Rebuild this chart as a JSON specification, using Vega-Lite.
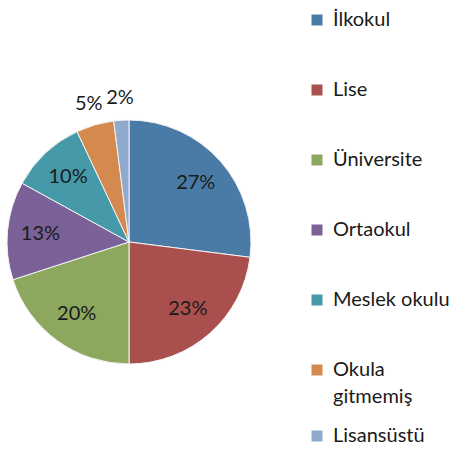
{
  "$schema": "https://vega.github.io/schema/vega-lite/v6.json",
  "autosize": {"type": "none"},
  "width": 258,
  "height": 420,
  "padding": {"left": 0, "top": 32, "right": 197, "bottom": 0},
  "background": "white",
  "config": {
    "view": {"stroke": null},
    "font": "Lato",
    "style": {"guide-label": {"lineHeight": 27}}
  },
  "data": {
    "values": [
      {"kategori": "İlkokul", "pay": 0.27, "sira": 1},
      {"kategori": "Lise", "pay": 0.23, "sira": 2},
      {"kategori": "Üniversite", "pay": 0.20, "sira": 3},
      {"kategori": "Ortaokul", "pay": 0.13, "sira": 4},
      {"kategori": "Meslek okulu", "pay": 0.10, "sira": 5},
      {"kategori": "Okula gitmemiş", "pay": 0.05, "sira": 6},
      {"kategori": "Lisansüstü", "pay": 0.02, "sira": 7}
    ]
  },
  "encoding": {
    "theta": {"field": "pay", "type": "quantitative", "stack": true},
    "order": {"field": "sira", "type": "quantitative"}
  },
  "layer": [
    {
      "mark": {"type": "arc", "outerRadius": 90, "strokeWidth": 0},
      "encoding": {
        "fill": {
          "condition": {
            "test": "datum.kategori == 'Lisansüstü'",
            "field": "kategori",
            "type": "nominal",
            "scale": {"domain": ["Lisansüstü"], "range": ["#8FAACC"]},
            "legend": {
              "orient": "none",
              "legendX": 307,
              "legendY": 394,
              "title": null,
              "symbolType": "square",
              "symbolSize": 121,
              "symbolStrokeWidth": 0,
              "labelFontSize": 20,
              "labelColor": "#1a1a1a",
              "labelOffset": 6
            }
          },
          "value": "#dddddd"
        }
      }
    },
    {
      "mark": {"type": "arc", "outerRadius": 122, "stroke": "#f4f4f4", "strokeWidth": 1},
      "encoding": {
        "color": {
          "field": "kategori",
          "type": "nominal",
          "sort": ["İlkokul", "Lise", "Üniversite", "Ortaokul", "Meslek okulu", "Okula gitmemiş", "Lisansüstü"],
          "scale": {
            "domain": ["İlkokul", "Lise", "Üniversite", "Ortaokul", "Meslek okulu", "Okula gitmemiş", "Lisansüstü"],
            "range": ["#4A7BA7", "#A9504F", "#8BA85E", "#7A6299", "#4599A9", "#D4894F", "#8FAACC"]
          },
          "legend": {
            "orient": "none",
            "legendX": 307,
            "legendY": -22,
            "title": null,
            "values": ["İlkokul", "Lise", "Üniversite", "Ortaokul", "Meslek okulu", "Okula gitmemiş"],
            "symbolType": "square",
            "symbolSize": 121,
            "symbolStrokeWidth": 0,
            "labelFontSize": 20,
            "labelColor": "#1a1a1a",
            "labelOffset": 6,
            "rowPadding": 50,
            "labelExpr": "datum.label == 'Okula gitmemiş' ? ['Okula', 'gitmemiş'] : datum.label"
          }
        }
      }
    },
    {
      "mark": {"type": "text", "radius": 89, "fontSize": 20, "color": "#1a1a1a"},
      "encoding": {
        "text": {"condition": {"test": "datum.pay >= 0.1", "field": "pay", "format": ".0%"}, "value": ""}
      }
    },
    {
      "mark": {"type": "text", "radius": 144, "fontSize": 20, "color": "#1a1a1a"},
      "encoding": {
        "text": {"condition": {"test": "datum.pay < 0.1", "field": "pay", "format": ".0%"}, "value": ""}
      }
    }
  ]
}
